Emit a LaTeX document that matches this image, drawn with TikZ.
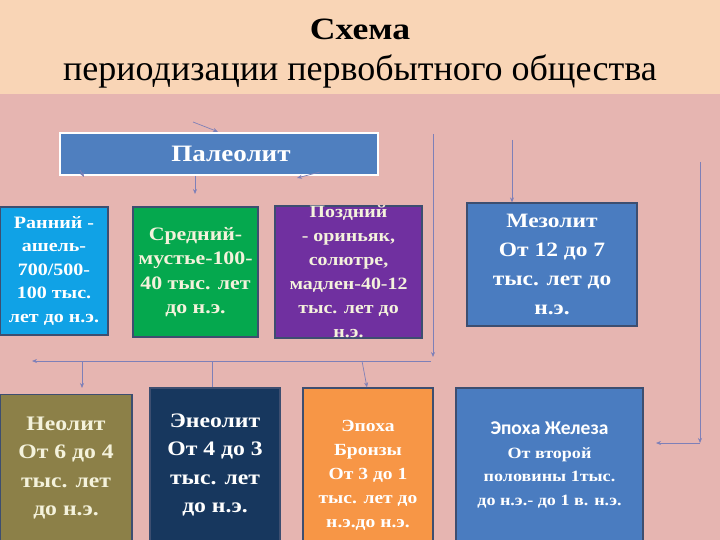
\documentclass[tikz,border=0pt]{standalone}
\usepackage{fontspec}
\setmainfont{Liberation Serif}
\newfontfamily\carl{Carlito}
\newfontfamily\bxf{Liberation Serif}[FakeStretch=1.15]
\usetikzlibrary{arrows.meta}
\definecolor{hdr}{HTML}{F9D5B6}
\definecolor{bgp}{HTML}{E6B5B1}
\definecolor{palc}{HTML}{4F7FBF}
\definecolor{rannc}{HTML}{10A2E6}
\definecolor{sredc}{HTML}{05A84E}
\definecolor{pozdc}{HTML}{7030A0}
\definecolor{mezc}{HTML}{4A7CC0}
\definecolor{neoc}{HTML}{8C8048}
\definecolor{eneoc}{HTML}{17375E}
\definecolor{bronc}{HTML}{F79646}
\definecolor{bordc}{HTML}{3D4E70}
\definecolor{linec}{HTML}{7E80B8}
\definecolor{cream}{HTML}{F4F2DC}
\tikzset{
  box/.style={draw=bordc, line width=1.2pt, align=center, text=white, inner sep=0pt},
  txt/.style={align=center, text=white, inner sep=0pt},
  conn/.style={draw=linec, line width=0.7pt},
  arr/.style={conn, -{Stealth[length=5pt,width=4pt]}}
}
\newcommand{\bxs}[2]{\bxf\bfseries\fontsize{#1}{#2}\selectfont}
\begin{document}
\begin{tikzpicture}[x=1pt,y=-1pt]
\useasboundingbox (0,0) rectangle (720,540);
\fill[bgp] (0,0) rectangle (720,540);
\fill[hdr] (0,0) rectangle (720,94);
\node[font=\bxs{31}{34}] (t1) at (360,29) {Схема};
\node[font=\fontsize{36}{40}\selectfont] (t2) at (360,71) {периодизации первобытного общества};

\node[box, draw=white, line width=2.5pt, fill=palc, minimum width=318pt, minimum height=42pt, font=\bxs{23.5}{28}] (pal) at (219,154) {\hspace{24pt}Палеолит};

\node[box, fill=rannc, minimum width=108pt, minimum height=128pt, font=\bxs{17.4}{23.5}] (rann) at (54,271)
 {Ранний -\\ашель-\\700/500-\\100 тыс.\\лет до н.э.};
\node[box, fill=sredc, text=cream, minimum width=125pt, minimum height=130pt, font=\bxs{19}{24.5}] (sred) at (195.5,272)
 {Средний-\\мустье-100-\\40 тыс. лет\\до н.э.};
\node[box, fill=pozdc, text=cream, minimum width=147pt, minimum height=130pt, font=\bxs{17.3}{24}] (pozd) at (348.5,272)
 {Поздний\\- ориньяк,\\солютре,\\мадлен-40-12\\тыс. лет до\\н.э.};
\node[box, fill=mezc, minimum width=170pt, minimum height=123pt, font=\bxs{20.4}{29}] (mez) at (552,264.5)
 {Мезолит\\От 12 до 7\\тыс. лет до\\н.э.};

\node[box, fill=neoc, text=cream, minimum width=132pt, minimum height=147pt, font=\bxs{20.6}{28.5}] (neo) at (66,468)
 {Неолит\\От 6 до 4\\тыс. лет\\до н.э.};
\node[box, fill=eneoc, minimum width=130pt, minimum height=154pt, font=\bxs{20.6}{28.5}] (eneo) at (215,465)
 {Энеолит\\От 4 до 3\\тыс. лет\\до н.э.};
\node[box, fill=bronc, minimum width=130pt, minimum height=154pt] (bron) at (368,465) {};
\node[txt, font=\bxs{17}{24}] (bront) at ([yshift=-10pt]bron.center)
 {Эпоха\\Бронзы\\От 3 до 1\\тыс. лет до\\н.э.до н.э.};
\node[box, fill=mezc, minimum width=187pt, minimum height=154pt, font=\bxs{15.7}{23.5}] (zhel) at (549.5,465)
 {{\carl\bfseries\fontsize{19.5}{23.5}\selectfont Эпоха Железа}\\От второй\\половины 1тыс.\\до н.э.- до 1 в. н.э.};

% connectors
\coordinate (a1) at (193,122);
\coordinate (x218) at (218,0);
\draw[arr] (a1) -- (x218 |- pal.north);
\coordinate (a2) at (80,170);
\coordinate (a2e) at (84,177);
\draw[arr] (a2) -- (a2e);
\coordinate (a3e) at (195,194);
\draw[arr] (a3e |- pal.south) -- (a3e);
\coordinate (a4) at (320,172);
\coordinate (a4e) at (297,178);
\draw[arr] (a4) -- (a4e);

\coordinate (v1t) at (433,134);
\coordinate (v1b) at (433,357);
\draw[arr] (v1t) -- (v1b);
\coordinate (h1r) at (431,361);
\coordinate (h1l) at (32,361);
\draw[arr] (h1r) -- (h1l);
\coordinate (d1t) at (82,361);
\coordinate (d1b) at (82,388);
\draw[arr] (d1t) -- (d1b);
\coordinate (d2t) at (212,361);
\draw[conn] (d2t) -- (d2t |- eneo.north);
\coordinate (d3t) at (362,361);
\coordinate (x367) at (367,0);
\draw[arr] (d3t) -- (x367 |- bron.north);

\coordinate (v2t) at (512,140);
\draw[arr] (v2t) -- (v2t |- mez.north);

\coordinate (v3t) at (700,162);
\coordinate (v3b) at (700,443);
\draw[arr] (v3t) -- (v3b);
\coordinate (h3e) at (656,443);
\draw[arr] (v3b) -- (h3e);
\end{tikzpicture}
\end{document}
